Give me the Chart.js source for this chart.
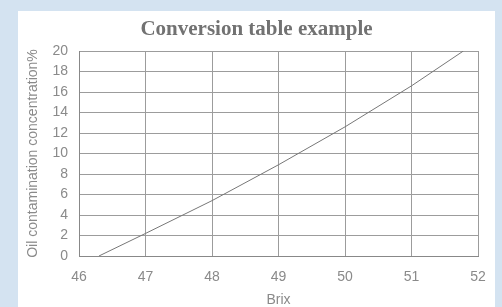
<!DOCTYPE html>
<html>
<head>
<meta charset="utf-8">
<script src="https://cdn.jsdelivr.net/npm/chart.js@4/dist/chart.umd.min.js"></script>
<style>
  html, body { margin: 0; padding: 0; }
  body { width: 502px; height: 307px; background: #d4e3f1; position: relative; overflow: hidden; }
  #panel { position: absolute; left: 18px; top: 11px; width: 477px; height: 296px; background: #fff; }
</style>
</head>
<body>
<div id="panel"><canvas id="chart" width="477" height="296"></canvas></div>
<script>
// values
const brix = [46.3, 47, 48, 49, 50, 51, 51.78];
const oilPercent = [0, 2.2, 5.4, 8.9, 12.6, 16.6, 20];

const chartTitle = 'Conversion table example';
const xTitle = 'Brix';
const yTitle = 'Oil contamination concentration%';

const tickColor = '#8a8a8a';
const gridColor = '#9c9c9c';

new Chart(document.getElementById('chart'), {
  type: 'scatter',
  data: {
    datasets: [{
      data: brix.map((b, i) => ({ x: b, y: oilPercent[i] })),
      showLine: true,
      borderColor: '#777',
      borderWidth: 1,
      pointRadius: 0,
      tension: 0,
      fill: false
    }]
  },
  options: {
    responsive: false,
    animation: false,
    layout: { padding: 0 },
    plugins: {
      legend: { display: false },
      tooltip: { enabled: false },
      title: {
        display: true,
        text: chartTitle,
        color: '#727272',
        font: { family: '"Liberation Serif", serif', size: 21, weight: 'bold', lineHeight: 1.2 },
        padding: { top: 6, bottom: 8.8 }
      }
    },
    scales: {
      x: {
        type: 'linear',
        min: 46,
        max: 52,
        ticks: { stepSize: 1, color: tickColor, padding: 13, font: { family: '"Liberation Sans", sans-serif', size: 14 } },
        grid: { color: gridColor, drawTicks: false },
        border: { color: '#888' },
        title: {
          display: true,
          text: xTitle,
          color: tickColor,
          font: { family: '"Liberation Sans", sans-serif', size: 14, lineHeight: 1 },
          padding: { top: 0, bottom: 0 }
        },
        // keep the plot's right edge 17px in from the panel, title stays centred on the panel
        afterFit: s => { s.height = 51; s.paddingRight = 17; }
      },
      y: {
        min: 0,
        max: 20,
        ticks: { stepSize: 2, color: tickColor, padding: 11, font: { family: '"Liberation Sans", sans-serif', size: 14 } },
        grid: { color: gridColor, drawTicks: false },
        border: { color: '#888' },
        title: {
          display: true,
          text: yTitle,
          color: tickColor,
          font: { family: '"Liberation Sans", sans-serif', size: 14, lineHeight: 1.2 },
          padding: { top: 7, bottom: 0 }
        },
        afterFit: s => { s.width = 61; }
      }
    }
  }
});
</script>
</body>
</html>
